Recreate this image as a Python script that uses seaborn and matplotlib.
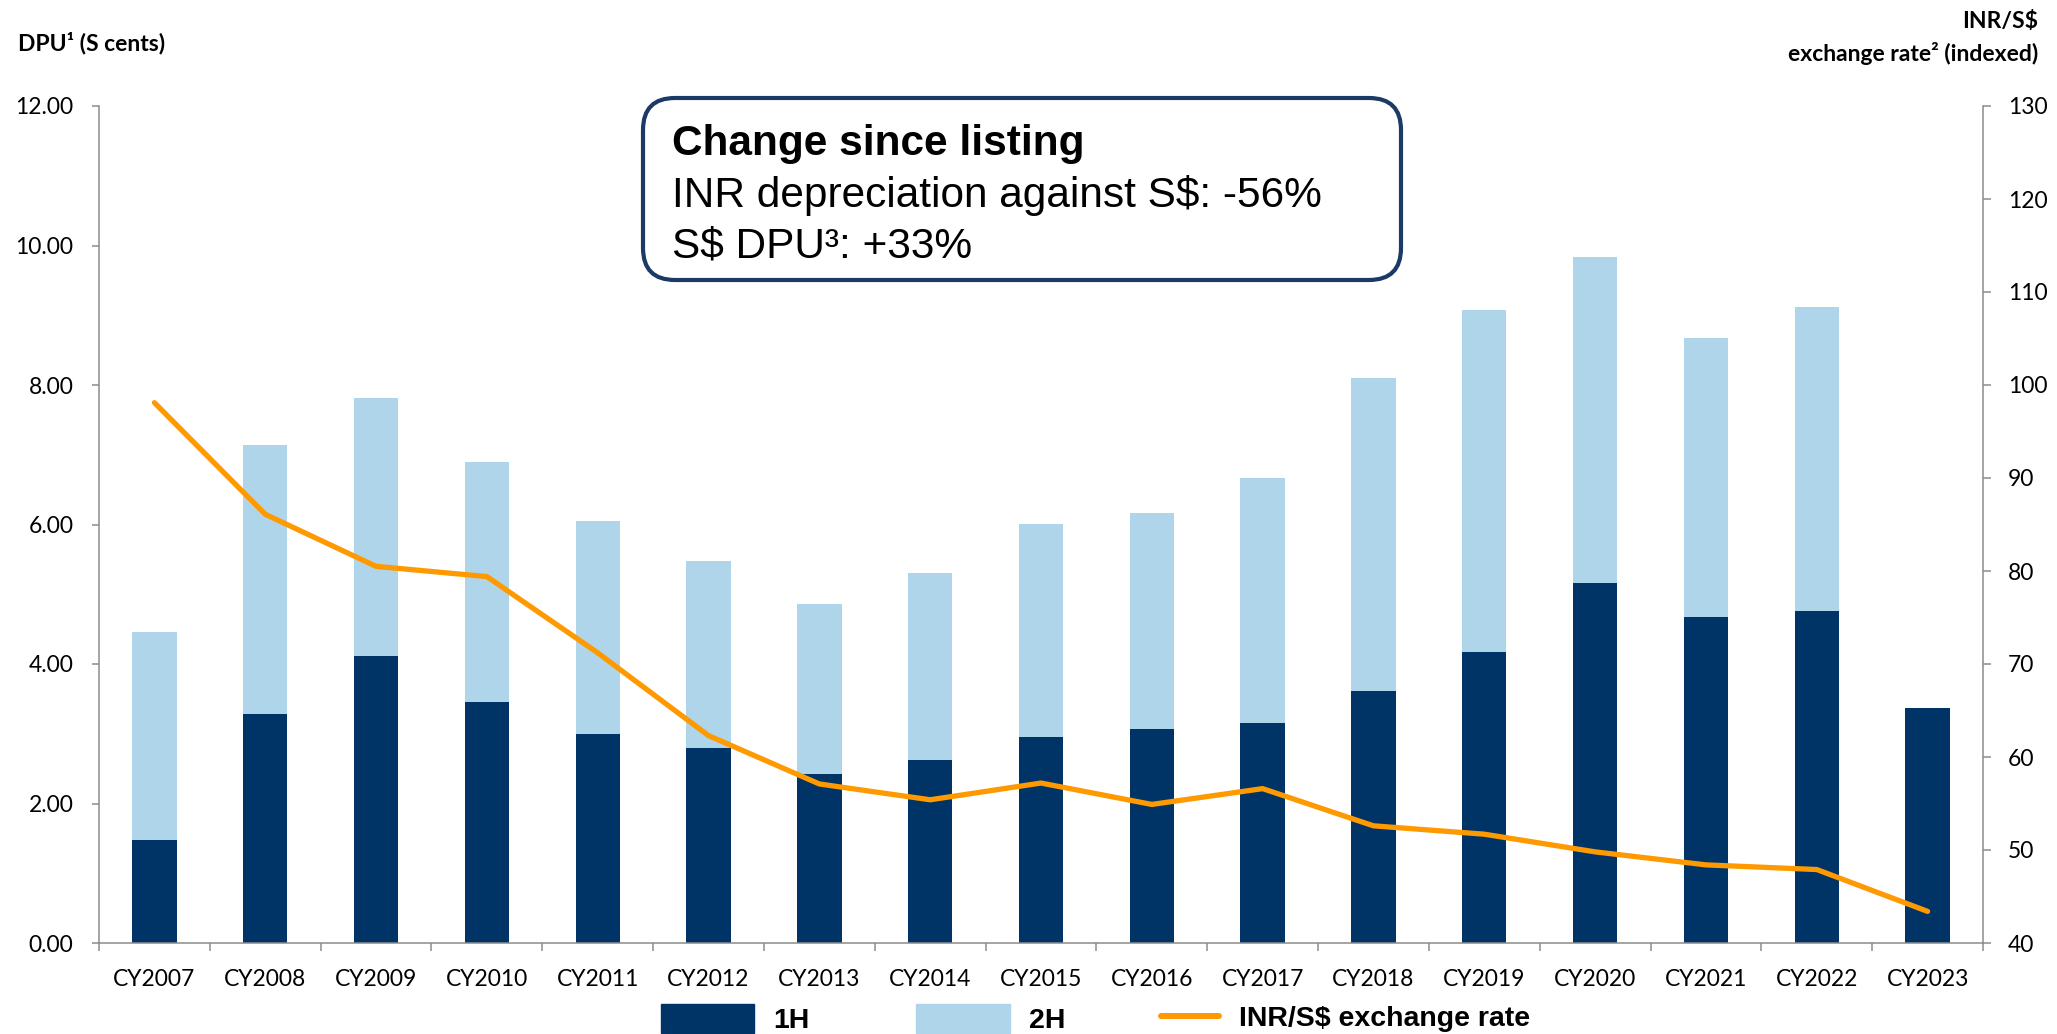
import numpy as np
import pandas as pd
import seaborn as sns
import matplotlib.pyplot as plt
from matplotlib.patches import Patch, FancyBboxPatch
from matplotlib.lines import Line2D

# Chart data
years = ['CY2007', 'CY2008', 'CY2009', 'CY2010', 'CY2011', 'CY2012', 'CY2013', 'CY2014', 'CY2015',
         'CY2016', 'CY2017', 'CY2018', 'CY2019', 'CY2020', 'CY2021', 'CY2022', 'CY2023']
dpu_1h = [1.47, 3.29, 4.12, 3.45, 2.99, 2.80, 2.42, 2.62, 2.96, 3.07, 3.16, 3.62, 4.17, 5.16, 4.67, 4.76, 3.37]
dpu_2h = [2.99, 3.85, 3.70, 3.44, 3.06, 2.68, 2.44, 2.69, 3.05, 3.10, 3.50, 4.48, 4.91, 4.67, 4.01, 4.36, 0.00]
fx_index = [98.1, 86.1, 80.5, 79.4, 71.2, 62.3, 57.1, 55.4, 57.2, 54.9, 56.6, 52.6, 51.7, 49.8, 48.4, 47.9, 43.4]
left_ticks = [0, 2, 4, 6, 8, 10, 12]
right_ticks = [40, 50, 60, 70, 80, 90, 100, 110, 120, 130]

navy = '#003366'
light = '#AFD5EA'
orange = '#FF9900'
grey = '#8C8C8C'

df = pd.DataFrame({'year': years, 'h1': dpu_1h, 'h2': dpu_2h})
df['total'] = df['h1'] + df['h2']

sns.set_style('white')
plt.rcParams['font.family'] = ['Lato', 'DejaVu Sans']
plt.rcParams['text.color'] = 'black'
plt.rcParams['xtick.color'] = 'black'
plt.rcParams['ytick.color'] = 'black'

fig = plt.figure(figsize=(20.57, 10.34), dpi=100)
W, H = 2057, 1034
ax = fig.add_axes([99 / W, 1 - 943 / H, (1983 - 99) / W, (943 - 106) / H])

# Stacked bars: full height in light blue, 1H drawn over it in navy
sns.barplot(data=df, x='year', y='total', color=light, width=0.4, saturation=1, linewidth=0, ax=ax)
sns.barplot(data=df, x='year', y='h1', color=navy, width=0.4, saturation=1, linewidth=0, ax=ax)

# Exchange rate line on the secondary axis
ax2 = ax.twinx()
sns.lineplot(x=np.arange(len(years)), y=fx_index, ax=ax2, color=orange, lw=3.8,
             solid_capstyle='round', legend=False)

n = len(years)
ax.set_xlim(-0.5, n - 0.5)
ax2.set_xlim(-0.5, n - 0.5)
ax.set_ylim(0, 12)
ax2.set_ylim(40, 130)
ax.set_xlabel('')
ax.set_ylabel('')
ax2.set_xlabel('')
ax2.set_ylabel('')

ax.set_xticks(range(n))
ax.set_xticklabels(years)
ax.set_xticks(np.arange(-0.5, n, 1), minor=True)
ax.set_yticks(left_ticks)
ax.set_yticklabels([f'{v:.2f}' for v in left_ticks])
ax2.set_yticks(right_ticks)
ax2.set_yticklabels([str(v) for v in right_ticks])

ax.tick_params(axis='x', which='major', length=0, pad=19, labelsize=16.5, labelcolor='black')
ax.tick_params(axis='x', which='minor', length=5.8, width=1.1, color=grey, direction='out', bottom=True)
ax.tick_params(axis='y', which='major', length=5, width=1.1, color=grey, direction='out',
               pad=13.5, labelsize=16.5, labelcolor='black', left=True)
ax2.tick_params(axis='y', which='major', length=5.8, width=1.1, color=grey, direction='out',
                pad=12, labelsize=16.5, labelcolor='black', right=True)

for a in (ax, ax2):
    a.spines['top'].set_visible(False)
    for s in a.spines.values():
        s.set_color(grey)
        s.set_linewidth(1.1)
ax.spines['right'].set_visible(False)
ax2.spines['left'].set_visible(False)
ax2.spines['bottom'].set_visible(False)
ax.grid(False)
ax2.grid(False)

# Axis titles
fig.text(18 / W, 1 - 43 / H, 'DPU¹ (S cents)', ha='left', va='center', fontsize=16.5,
         fontweight='bold', color='black')
fig.text(2038 / W, 1 - 22 / H, 'INR/S$', ha='right', va='center', fontsize=16.5,
         fontweight='bold', color='black')
fig.text(2038 / W, 1 - 54 / H, 'exchange rate² (indexed)', ha='right', va='center',
         fontsize=16.5, fontweight='bold', color='black')

# Callout box
box = FancyBboxPatch((6.43, 7.54), 7.58, 1.82, boxstyle='round,pad=0,rounding_size=0.32',
                     transform=fig.dpi_scale_trans, facecolor='white', edgecolor='#1B3A66', lw=3)
fig.add_artist(box)
fig.text(672 / W, 1 - 155 / H, 'Change since listing', ha='left', va='baseline',
         fontsize=30.5, fontweight='bold', family='Liberation Sans', color='black')
fig.text(672 / W, 1 - 207 / H, 'INR depreciation against S$: -56%', ha='left', va='baseline',
         fontsize=30.5, family='Liberation Sans', color='black')
fig.text(672 / W, 1 - 258 / H, 'S$ DPU³: +33%', ha='left', va='baseline',
         fontsize=30.5, family='Liberation Sans', color='black')

# Legend (two pieces so the line handle can be shorter than the patches)
leg_font = dict(family='Liberation Sans', weight='bold', size=20.5)
leg1 = fig.legend(handles=[Patch(facecolor=navy, edgecolor=navy), Patch(facecolor=light, edgecolor=light)],
                  labels=['1H', '2H'], loc='center left', bbox_to_anchor=(661 / W, 1 - 1019 / H),
                  frameon=False, ncol=2, handlelength=3.27, handleheight=1.22, handletextpad=0.68,
                  columnspacing=3.75, borderpad=0, borderaxespad=0, prop=leg_font, labelcolor='black')
leg2 = fig.legend(handles=[Line2D([0], [0], color=orange, lw=4.3)], labels=['INR/S$ exchange rate'],
                  loc='center left', bbox_to_anchor=(1161 / W, 1 - 1019 / H), frameon=False,
                  handlelength=2.05, handletextpad=0.68, borderpad=0, borderaxespad=0, prop=leg_font,
                  labelcolor='black')

fig.savefig('out.png', dpi=100)
